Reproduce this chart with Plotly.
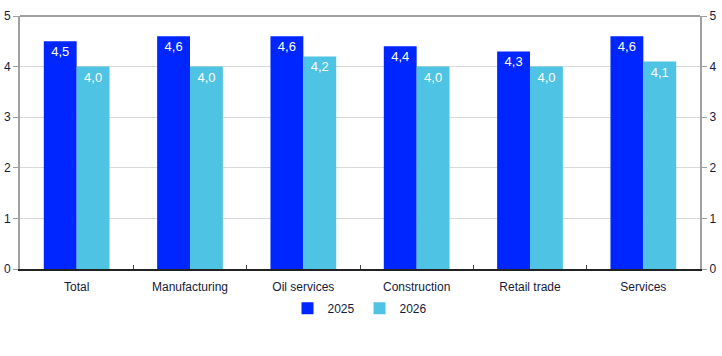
import plotly.graph_objects as go

categories = ["Total", "Manufacturing", "Oil services", "Construction", "Retail trade", "Services"]
values_2025 = [4.5, 4.6, 4.6, 4.4, 4.3, 4.6]
values_2026 = [4.0, 4.0, 4.2, 4.0, 4.0, 4.1]
tick_vals = [0, 1, 2, 3, 4, 5]

def fmt(v):
    return f"{v:.1f}".replace(".", ",")

fig = go.Figure()
fig.add_trace(go.Bar(x=categories, y=values_2025, name="2025", marker_color="#0026ff",
                     marker_line_width=0, text=[fmt(v) for v in values_2025],
                     textposition="inside", insidetextanchor="end",
                     textfont=dict(color="white", size=13), textangle=0))
fig.add_trace(go.Bar(x=categories, y=values_2026, name="2026", marker_color="#4fc3e3",
                     marker_line_width=0, text=[fmt(v) for v in values_2026],
                     textposition="inside", insidetextanchor="end",
                     textfont=dict(color="white", size=13), textangle=0))
# invisible trace for right axis
fig.add_trace(go.Scatter(x=categories, y=values_2025, yaxis="y2", mode="markers",
                         marker=dict(opacity=0), showlegend=False, hoverinfo="skip"))

axis_font = dict(size=12, color="#141b3c")
fig.update_layout(
    width=722, height=356,
    margin=dict(l=20, r=22, t=16, b=87, autoexpand=False),
    paper_bgcolor="white", plot_bgcolor="white",
    font=dict(family="Liberation Sans, Arial, sans-serif", size=12, color="#141b3c"),
    barmode="group", bargap=0.42, bargroupgap=0,
    xaxis=dict(showline=True, linecolor="#222222", linewidth=1.5, ticks="inside",
               tickson="boundaries", ticklen=4, tickcolor="#444444", showgrid=False,
               tickfont=axis_font, automargin=False, ticklabelstandoff=6),
    yaxis=dict(range=[0, 5], tickvals=tick_vals, showline=True, linecolor="#a0a0a0",
               linewidth=2, ticks="outside", ticklen=5, tickcolor="#a0a0a0",
               gridcolor="#d9d9d9", gridwidth=1, zeroline=False, tickfont=axis_font,
               automargin=False),
    yaxis2=dict(range=[0, 5], tickvals=tick_vals, overlaying="y", side="right",
                showline=True, linecolor="#a0a0a0", linewidth=2, ticks="outside",
                ticklen=5, tickcolor="#a0a0a0", showgrid=False, zeroline=False,
                tickfont=axis_font, automargin=False),
    legend=dict(orientation="h", x=0.5, xanchor="center", y=-0.155, yanchor="middle",
                font=dict(size=12, color="#141b3c"), itemwidth=30, traceorder="normal"),
    uniformtext=dict(minsize=10, mode="show"),
    shapes=[dict(type="line", xref="paper", yref="paper", x0=0, x1=1, y0=1, y1=1,
                 line=dict(color="#a0a0a0", width=2), layer="above")],
)

fig.write_html("out.html", config={"displayModeBar": False},
               post_script="document.body.style.margin='0';document.body.style.padding='0';")
